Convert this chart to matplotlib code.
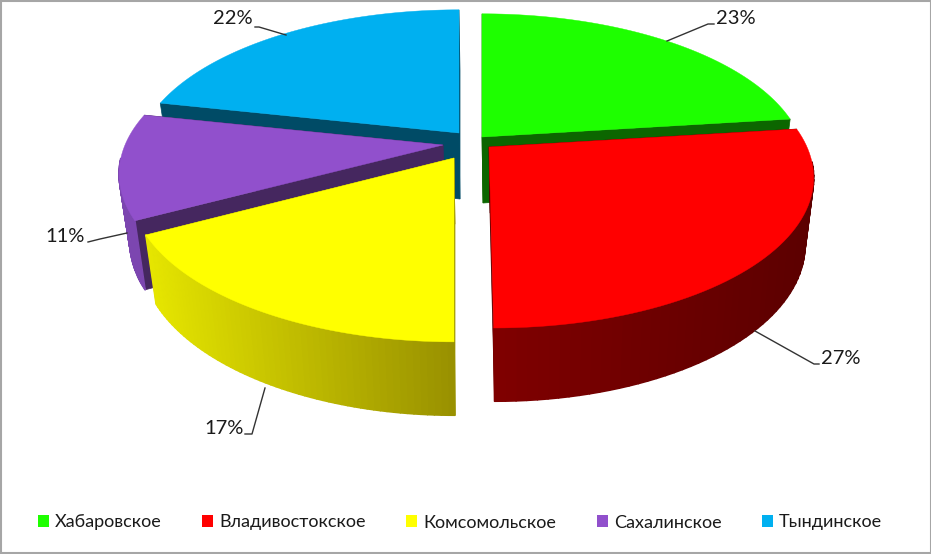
import numpy as np
import matplotlib
matplotlib.use("Agg")
import matplotlib.pyplot as plt
from matplotlib.colors import to_rgb
from matplotlib.patches import Patch, Rectangle

plt.rcParams['font.family'] = ['Lato', 'Open Sans', 'DejaVu Sans']

# data
districts = ["Хабаровское", "Владивостокское", "Комсомольское", "Сахалинское", "Тындинское"]
shares = [23, 27, 17.2, 11.2, 21.6]

# colours
top_colors = ["#1EFF00", "#FF0000", "#FFFF00", "#9150CC", "#00B0F0"]
cut_colors = ["#0C6600", "#5A0000", "#999100", "#45275F", "#004B66"]
wall_left = ["#0C6600", "#800000", "#E6E600", "#7C46B0", "#004B66"]
wall_right = ["#0C6600", "#5C0000", "#999100", "#7C46B0", "#004B66"]

# where each exploded slice has its tip, and how the front edge leans
tips = [(482, 137), (489, 147), (454, 158), (443, 145), (459, 133)]
lean = [0, 0.026, 0, 0, 0]
stretch = [1, 1, 1.016, 1, 1]

# pie shape, in pixels
B = 318
A = 146.6
K = 0.19
DEPTH = 66
BOTTOM_X = 0.97
BOTTOM_Y = 1.04

# label places
label_pos = [(736, 18), (841, 358), (224, 429), (65, 236), (233, 18)]
leaders = [
    [(667, 41), (708, 24), (714, 24)],
    [(755, 331), (814, 364), (819, 364)],
    [(265, 388), (252, 434), (245, 434)],
    [(127, 233), (100, 239), (88, 242)],
    [(286, 35), (259, 27), (255, 27)],
]


def project(theta, i, bottom=False):
    # theta is clockwise from 12 o'clock
    u = np.sin(theta)
    v = np.cos(theta)
    w = 1 + K * v
    X = B * u / w
    Y = A * v / w * stretch[i]
    X = X - lean[i] * Y
    tx, ty = tips[i]
    if bottom:
        return tx + 1 + X * BOTTOM_X, ty + DEPTH - Y * BOTTOM_Y
    return tx + X, ty - Y


def mix(c1, c2, t):
    c1 = np.array(to_rgb(c1))
    c2 = np.array(to_rgb(c2))
    return tuple(c1 + (c2 - c1) * t)


fig = plt.figure(figsize=(9.31, 5.54), dpi=100)
ax = fig.add_axes([0, 0, 1, 1])
ax.set_xlim(0, 931)
ax.set_ylim(554, 0)
ax.axis("off")

edges = np.cumsum([0] + shares) / sum(shares) * 2 * np.pi


def draw_slice(i):
    start = edges[i]
    end = edges[i + 1]
    th = np.linspace(start, end, 61)
    tx, ty = project(th, i)
    bx, by = project(th, i, bottom=True)
    ax0 = tips[i][0]
    ay0 = tips[i][1]

    # cut faces
    for j in [0, -1]:
        ax.fill([ax0, tx[j], bx[j], ax0 + 1], [ay0, ty[j], by[j], ay0 + DEPTH],
                color=cut_colors[i], lw=0.5)

    # outer wall, split up for the gradient (back part is hidden anyway)
    xmin = tx.min()
    xmax = tx.max()
    for j in range(len(th) - 1):
        if np.cos(th[j]) > -0.1:
            continue
        t = (tx[j] - xmin) / (xmax - xmin)
        c = mix(wall_left[i], wall_right[i], t)
        ax.fill([tx[j], tx[j + 1], bx[j + 1], bx[j]], [ty[j], ty[j + 1], by[j + 1], by[j]],
                color=c, lw=1.2, joinstyle="round")

    # top
    ax.fill(np.r_[ax0, tx], np.r_[ay0, ty], color=top_colors[i], lw=0.3)


# back slices first
for i in [0, 4, 3, 2, 1]:
    draw_slice(i)

# leader lines and labels
for i in range(len(shares)):
    pts = np.array(leaders[i])
    ax.plot(pts[:, 0], pts[:, 1], color="#333333", lw=1)
    ax.text(label_pos[i][0] + 0, label_pos[i][1], f"{round(shares[i])}%", ha="center", va="center",
            fontsize=14.5, color="#1a1a1a")

# legend
handles = [Patch(color=c, lw=0) for c in top_colors]
ax.legend(handles, districts, ncol=5, loc="center", bbox_to_anchor=(460, 522.5),
          bbox_transform=ax.transData, frameon=False, fontsize=13,
          handlelength=0.61, handleheight=0.61, handletextpad=0.33, columnspacing=2.25,
          borderpad=0, borderaxespad=0, labelcolor="#1a1a1a")

# chart border
ax.add_patch(Rectangle((0.5, 0.5), 930, 552.5, fill=False, ec="#A6A6A6", lw=1.5))

fig.savefig("out.png", dpi=100)
